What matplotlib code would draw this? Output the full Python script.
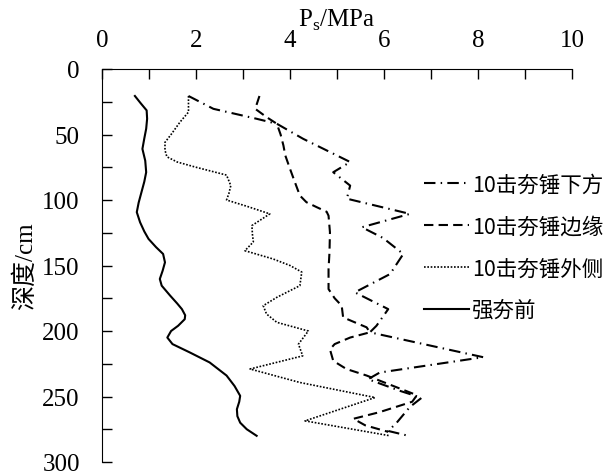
import matplotlib
matplotlib.use('Agg')
import matplotlib.pyplot as plt
from matplotlib.ticker import MultipleLocator

# depth (cm) and Ps (MPa)
depth_below = [20.6, 30.4, 38, 41.8, 53.3, 71, 78.8, 89, 99, 110.6, 120.8, 129,
               141.2, 156.5, 170.5, 183.3, 196, 201, 220, 231.7, 236.8, 245.7,
               251, 258, 270, 276.3, 280]
ps_below = [1.84, 2.37, 3.29, 3.72, 4.28, 5.28, 4.92, 5.28, 5.21, 6.55, 5.53, 5.98,
            6.41, 6.13, 5.38, 6.09, 5.84, 5.70, 8.11, 5.91, 5.66, 6.34,
            6.80, 6.55, 6.27, 6.09, 6.52]

depth_edge = [20.6, 30.4, 36.7, 41.8, 50, 58.4, 66, 76.2, 86, 96.6, 101.7, 105.5,
              109, 112, 124.6, 140, 152.7, 168, 175, 180.7, 189.6, 197.2, 201,
              205, 210, 214, 222.8, 229, 234, 242, 249, 254, 262, 267, 272, 277]
ps_edge = [3.35, 3.26, 3.50, 3.72, 3.80, 3.86, 3.90, 4.00, 4.10, 4.21, 4.35, 4.57,
           4.78, 4.82, 4.85, 4.84, 4.82, 4.82, 4.95, 5.10, 5.13, 5.63, 5.70,
           5.28, 4.95, 4.85, 4.92, 5.20, 5.63, 6.20, 6.70, 6.60, 5.90, 5.35, 5.60, 6.09]

depth_out = [20.6, 32.9, 40.5, 49.5, 56, 62, 67, 71, 75, 81, 89, 95, 100, 105,
             110.6, 119.5, 126, 132, 138.7, 145, 150, 155, 165.4, 174.3, 180.7,
             187, 193.4, 200, 210, 219, 229, 239.3, 250.8, 268.6, 280]
ps_out = [1.84, 1.84, 1.66, 1.48, 1.34, 1.34, 1.38, 1.60, 2.00, 2.65, 2.74, 2.70,
          2.65, 3.10, 3.57, 3.19, 3.20, 3.22, 3.04, 3.64, 4.00, 4.25, 4.21, 3.72,
          3.43, 3.50, 3.72, 4.39, 4.18, 4.27, 3.15, 4.21, 5.81, 4.32, 6.13]

depth_before = [20.6, 26, 31.6, 38, 45.6, 53, 61, 70, 78.8, 86, 94, 102, 109.3, 117,
                124, 129.7, 136, 141.2, 147.6, 154, 160.3, 165.4, 173, 179, 183.3,
                188, 191, 196, 200, 205, 210, 216.4, 224, 234, 242, 249.5, 254,
                259.7, 265, 270, 275, 280]
ps_before = [0.70, 0.82, 0.95, 0.96, 0.94, 0.90, 0.86, 0.92, 0.94, 0.90, 0.84, 0.78,
             0.74, 0.81, 0.90, 0.99, 1.15, 1.30, 1.34, 1.29, 1.23, 1.27, 1.45, 1.60,
             1.70, 1.77, 1.76, 1.62, 1.47, 1.39, 1.50, 1.87, 2.29, 2.65, 2.82, 2.94,
             2.92, 2.87, 2.88, 2.94, 3.08, 3.29]

labels = ['10击夯锤下方', '10击夯锤边缘', '10击夯锤外侧', '强夯前']

plt.rcParams['font.family'] = ['Liberation Serif', 'Noto Sans CJK SC']

fig = plt.figure(figsize=(6.15, 4.77), dpi=100)
ax = fig.add_axes([102/615, 1 - 463/477, 470/615, 393/477])

ax.plot(ps_below, depth_below, color='black', lw=1.5, ls=(0, (5.5, 2.5, 0.7, 2.5)), label=labels[0])
ax.plot(ps_edge, depth_edge, color='black', lw=1.5, ls=(0, (4.5, 2.5)), label=labels[1])
ax.plot(ps_out, depth_out, color='black', lw=1.2, ls=(0, (1, 1)), label=labels[2])
ax.plot(ps_before, depth_before, color='black', lw=1.5, ls='-', label=labels[3])

ax.set_xlim(0, 10)
ax.set_ylim(300, 0)
ax.xaxis.set_major_locator(MultipleLocator(2))
ax.xaxis.set_minor_locator(MultipleLocator(1))
ax.yaxis.set_major_locator(MultipleLocator(50))
ax.yaxis.set_minor_locator(MultipleLocator(25))
ax.xaxis.tick_top()
ax.xaxis.set_label_position('top')
ax.spines['right'].set_visible(False)
ax.spines['bottom'].set_visible(False)
ax.tick_params(which='both', direction='in', length=7, width=1, top=True, bottom=False)
ax.tick_params(axis='x', which='major', labelsize=18, pad=13)
ax.tick_params(axis='y', which='major', labelsize=18, pad=16)

ax.set_xlabel(r'P$_\mathregular{s}$/MPa', fontsize=18, labelpad=2)
ax.set_ylabel('深度/cm', fontsize=18, labelpad=4)

leg = fig.legend(loc='upper left', bbox_to_anchor=(413/615, 1 - 164/477), frameon=False,
                 prop={'family': ['Noto Sans CJK SC'], 'size': 15.5},
                 handlelength=2.1, handletextpad=0.15, labelspacing=0.92, borderpad=0)

fig.savefig('out.png', dpi=100)
